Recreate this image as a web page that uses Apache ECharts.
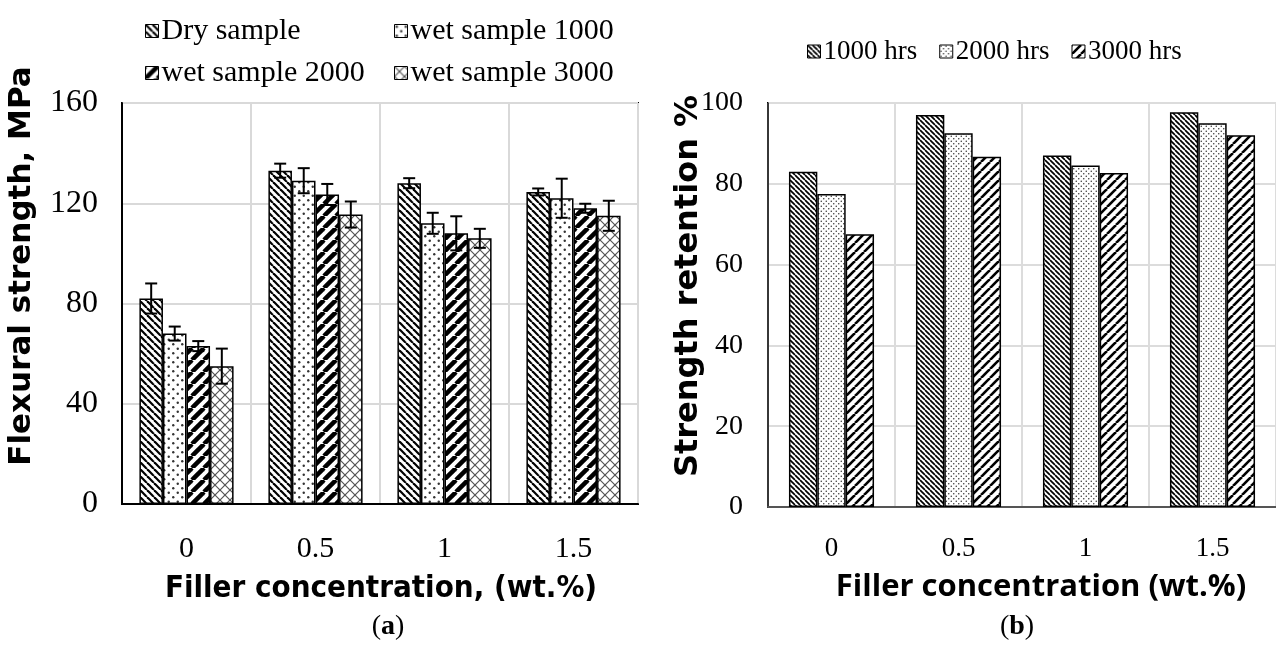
<!DOCTYPE html>
<html>
<head>
<meta charset="utf-8">
<script src="https://cdn.jsdelivr.net/npm/echarts@6/dist/echarts.min.js"></script>
<style>
  html, body { margin: 0; padding: 0; background: #fff; }
  #main { width: 1276px; height: 650px; }
</style>
</head>
<body>
<div id="main"></div>
<script>
// ---- data (a) flexural strength, MPa
var fillerCats = ['0', '0.5', '1', '1.5'];
var drySample = [82, 133, 128, 124.5];
var drySampleErr = [6, 2.8, 2, 1.4];
var wet1000 = [68, 129, 112, 122];
var wet1000Err = [2.8, 5, 4.2, 7.8];
var wet2000 = [63, 123.5, 108, 118];
var wet2000Err = [2, 4.2, 6.8, 1.8];
var wet3000 = [55, 115.5, 106, 115];
var wet3000Err = [7, 5.2, 3.8, 6];
var namesA = ['Dry sample', 'wet sample 1000', 'wet sample 2000', 'wet sample 3000'];

// ---- data (b) strength retention %
var hrs1000 = [83, 97, 87, 97.7];
var hrs2000 = [77.5, 92.5, 84.5, 95];
var hrs3000 = [67.5, 86.7, 82.7, 92];
var namesB = ['1000 hrs', '2000 hrs', '3000 hrs'];

var myChart = echarts.init(document.getElementById('main'));

// hatch patterns built on small canvases
function makePattern(kind, size, lw, col){
    var c = document.createElement('canvas');
    c.width = size; c.height = size;
    var ctx = c.getContext('2d');
    ctx.fillStyle = '#fff';
    ctx.fillRect(0, 0, size, size);
    ctx.strokeStyle = col;
    ctx.fillStyle = col;
    ctx.lineWidth = lw;
    var k;
    if(kind === 'back'){           // "\"
        for(k=-1;k<=1;k++){
            ctx.beginPath(); ctx.moveTo(k*size, 0); ctx.lineTo(k*size+size, size); ctx.stroke();
        }
    } else if(kind === 'fwd'){     // "/"
        for(k=-1;k<=1;k++){
            ctx.beginPath(); ctx.moveTo(k*size, size); ctx.lineTo(k*size+size, 0); ctx.stroke();
        }
    } else if(kind === 'cross'){
        for(k=-1;k<=1;k++){
            ctx.beginPath(); ctx.moveTo(k*size, 0); ctx.lineTo(k*size+size, size); ctx.stroke();
            ctx.beginPath(); ctx.moveTo(k*size, size); ctx.lineTo(k*size+size, 0); ctx.stroke();
        }
    } else if(kind === 'dots'){
        var r = lw;
        ctx.beginPath(); ctx.arc(size*0.25, size*0.25, r, 0, Math.PI*2); ctx.fill();
        ctx.beginPath(); ctx.arc(size*0.75, size*0.75, r, 0, Math.PI*2); ctx.fill();
    }
    return { image: c, repeat: 'repeat' };
}

var patA = [
    makePattern('back', 7, 2.2, '#000'),
    makePattern('dots', 9, 1.2, '#333'),
    makePattern('fwd', 12, 4.5, '#000'),
    makePattern('cross', 10, 1.2, '#555')
];
var patB = [
    makePattern('back', 5, 1.7, '#000'),
    makePattern('dots', 5, 0.75, '#333'),
    makePattern('fwd', 9, 2.6, '#000')
];

var gapA = 0.27;
var seriesA = [drySample, wet1000, wet2000, wet3000];
var errsA = [drySampleErr, wet1000Err, wet2000Err, wet3000Err];

function errSeries(k){
    var vals = seriesA[k], errs = errsA[k];
    var d = [];
    for(var i=0;i<vals.length;i++){
        d.push([i, vals[i]-errs[i], vals[i]+errs[i]]);
    }
    return {
        type: 'custom',
        xAxisIndex: 0, yAxisIndex: 0,
        z: 10,
        silent: true,
        encode: { x: 0, y: [1, 2] },
        data: d,
        renderItem: function(params, api){
            var lo = api.coord([api.value(0), api.value(1)]);
            var hi = api.coord([api.value(0), api.value(2)]);
            var band = api.size([1, 0])[0];
            var bw = band*(1-gapA)/4;
            var x = lo[0] + (k-1.5)*bw;
            var cap = 6;
            var st = { stroke: '#000', lineWidth: 2 };
            return {
                type: 'group',
                children: [
                    { type: 'line', shape: { x1: x, y1: lo[1], x2: x, y2: hi[1] }, style: st },
                    { type: 'line', shape: { x1: x-cap, y1: lo[1], x2: x+cap, y2: lo[1] }, style: st },
                    { type: 'line', shape: { x1: x-cap, y1: hi[1], x2: x+cap, y2: hi[1] }, style: st }
                ]
            };
        }
    };
}

var serif = '"Liberation Serif", "Times New Roman", serif';
var sansB = '"DejaVu Sans", Verdana, sans-serif';

var series = [];
for(var i=0;i<4;i++){
    series.push({
        name: namesA[i],
        type: 'bar',
        xAxisIndex: 0, yAxisIndex: 0,
        barGap: '0%',
        barCategoryGap: '27%',
        data: seriesA[i],
        itemStyle: { color: patA[i], borderColor: '#000', borderWidth: 1.5 }
    });
}
for(var i=0;i<4;i++){
    series.push(errSeries(i));
}
var dataB = [hrs1000, hrs2000, hrs3000];
for(var j=0;j<3;j++){
    series.push({
        name: namesB[j],
        type: 'bar',
        xAxisIndex: 1, yAxisIndex: 1,
        barGap: '0%',
        barCategoryGap: '33%',
        data: dataB[j],
        itemStyle: { color: patB[j], borderColor: '#000', borderWidth: 1.5 }
    });
}

var legendBase = {
    icon: 'rect',
    itemWidth: 13,
    itemHeight: 13,
    selectedMode: false,
    itemStyle: { borderColor: '#000', borderWidth: 1 }
};

option = {
    animation: false,
    backgroundColor: '#fff',
    grid: [
        { left: 122, top: 103, width: 516, height: 401, show: true, borderColor: '#000', borderWidth: 2 },
        { left: 768, top: 103, width: 517, height: 404, show: true, borderColor: '#000', borderWidth: 2 }
    ],
    legend: [
        echarts.util.merge({
            data: [namesA[0], namesA[2]], orient: 'vertical', left: 140, top: 11, itemGap: 12,
            textStyle: { fontFamily: serif, fontSize: 30, color: '#000', padding: [0,0,0,-2] }
        }, legendBase, true),
        echarts.util.merge({
            data: [namesA[1], namesA[3]], orient: 'vertical', left: 389, top: 11, itemGap: 12,
            textStyle: { fontFamily: serif, fontSize: 30, color: '#000', padding: [0,0,0,-2] }
        }, legendBase, true),
        echarts.util.merge({
            data: namesB, orient: 'horizontal', left: 802, top: 33, itemGap: 22,
            textStyle: { fontFamily: serif, fontSize: 27, color: '#000', padding: [0,0,0,-2] }
        }, legendBase, true)
    ],
    xAxis: [
        {
            type: 'category', gridIndex: 0, data: fillerCats,
            axisLine: { lineStyle: { color: '#000', width: 2 } },
            axisTick: { show: false },
            axisLabel: { fontFamily: serif, fontSize: 30, color: '#000', margin: 30 },
            splitLine: { show: true, lineStyle: { color: '#d9d9d9', width: 2 } }
        },
        {
            type: 'category', gridIndex: 1, data: fillerCats,
            axisLine: { lineStyle: { color: '#555', width: 2 } },
            axisTick: { show: false },
            axisLabel: { fontFamily: serif, fontSize: 27, color: '#000', margin: 28 },
            splitLine: { show: true, lineStyle: { color: '#dcdcdc', width: 2 } }
        }
    ],
    yAxis: [
        {
            type: 'value', gridIndex: 0, min: 0, max: 160, interval: 40,
            axisLine: { show: true, lineStyle: { color: '#000', width: 2 } },
            axisTick: { show: false },
            axisLabel: { fontFamily: serif, fontSize: 32, color: '#000', margin: 24 },
            splitLine: { lineStyle: { color: '#d9d9d9', width: 2 } }
        },
        {
            type: 'value', gridIndex: 1, min: 0, max: 100, interval: 20,
            axisLine: { show: true, lineStyle: { color: '#000', width: 1.5 } },
            axisTick: { show: false },
            axisLabel: { fontFamily: serif, fontSize: 28, color: '#000', margin: 25 },
            splitLine: { lineStyle: { color: '#dcdcdc', width: 2 } }
        }
    ],
    title: [
        {
            text: '{p|(}{b|a}{p|)}', left: 383, top: 608, textAlign: 'center',
            textStyle: { rich: {
                p: { fontFamily: serif, fontSize: 28, fontWeight: 'normal', color: '#000' },
                b: { fontFamily: serif, fontSize: 28, fontWeight: 'bold', color: '#000' }
            } }
        },
        {
            text: '{p|(}{b|b}{p|)}', left: 1012, top: 608, textAlign: 'center',
            textStyle: { rich: {
                p: { fontFamily: serif, fontSize: 28, fontWeight: 'normal', color: '#000' },
                b: { fontFamily: serif, fontSize: 28, fontWeight: 'bold', color: '#000' }
            } }
        }
    ],
    graphic: [
        {
            type: 'text', x: 22, y: 266, rotation: Math.PI/2,
            style: { text: 'Flexural strength, MPa', fill: '#000', font: 'bold 31px ' + sansB,
                     textAlign: 'center', textVerticalAlign: 'middle', align: 'center', verticalAlign: 'middle' }
        },
        {
            type: 'text', x: 689, y: 286, rotation: Math.PI/2,
            style: { text: 'Strength retention %', fill: '#000', font: 'bold 32px ' + sansB,
                     textAlign: 'center', textVerticalAlign: 'middle', align: 'center', verticalAlign: 'middle' }
        },
        {
            type: 'text', x: 381, y: 589,
            style: { text: 'Filler concentration, (wt.%)', fill: '#000', font: 'bold 31px "DejaVu Sans Condensed", ' + sansB,
                     textAlign: 'center', textVerticalAlign: 'middle', align: 'center', verticalAlign: 'middle' }
        },
        {
            type: 'text', x: 1041, y: 587,
            style: { text: 'Filler concentration (wt.%)', fill: '#000', font: 'bold 31px "Open Sans", sans-serif',
                     textAlign: 'center', textVerticalAlign: 'middle', align: 'center', verticalAlign: 'middle' }
        }
    ],
    series: series
};

myChart.setOption(option);
</script>
</body>
</html>
